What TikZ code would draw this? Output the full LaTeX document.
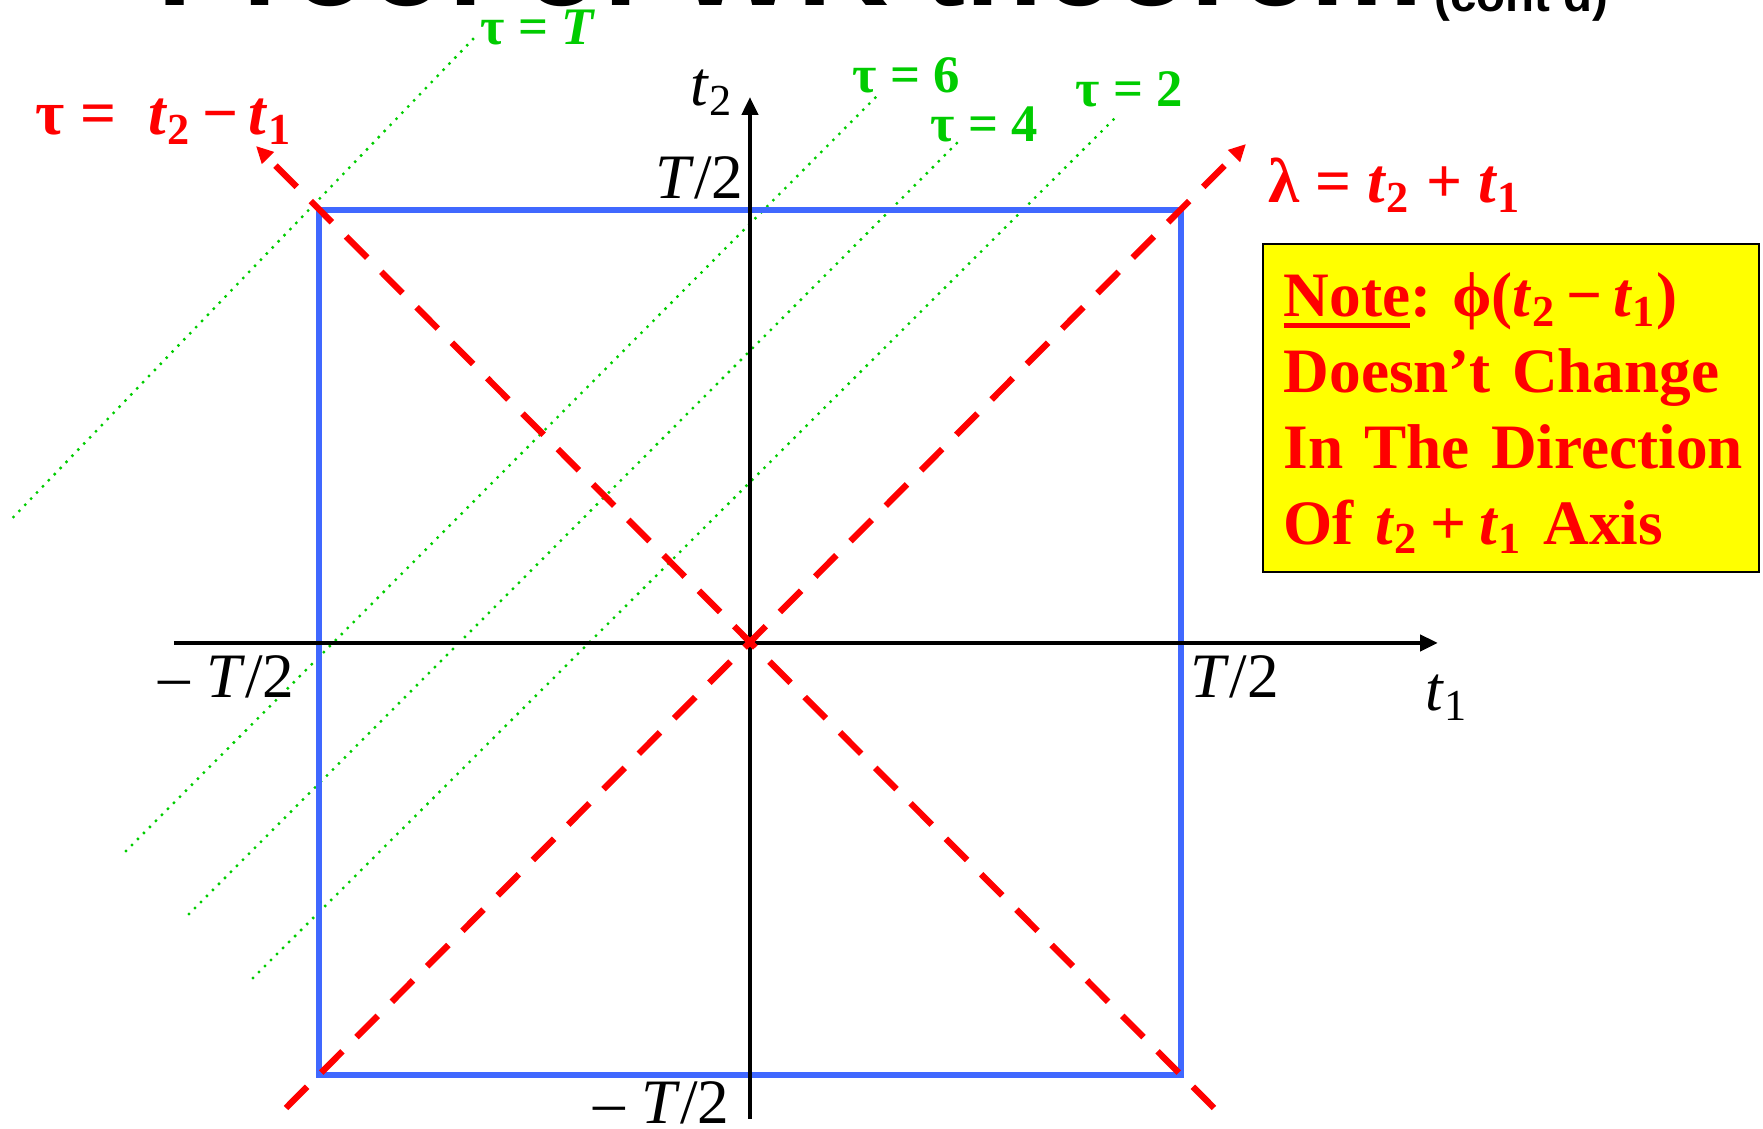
\documentclass[tikz,border=0pt]{standalone}
\usepackage{xcolor}
\usepackage{fontspec}
\setmainfont{Liberation Serif}
\newfontfamily\titlefont{Liberation Sans}
\usepackage{tikz}
\usetikzlibrary{positioning,arrows.meta}
\definecolor{sqblue}{RGB}{64,104,255}
\definecolor{taugreen}{RGB}{0,204,0}
\definecolor{noteyellow}{RGB}{255,255,0}
\newcommand{\thickul}[1]{\leavevmode\setbox0\hbox{#1}\rlap{\rule[-3pt]{\wd0}{1.3pt}}\box0}
\frenchspacing

\begin{document}
\begin{tikzpicture}[
        axis/.style={line width=1.4pt, -{Triangle[length=1.8mm,width=1.6mm]}},
        square/.style={draw=sqblue, line width=1.6pt},
        diag/.style={red, line width=1.8pt, dash pattern=on 3mm off 2mm, -{Triangle[length=1.7mm,width=1.6mm]}},
        tauline/.style={taugreen, line width=0.95pt, line cap=round, dash pattern=on 0pt off 0.85mm},
        axlabel/.style={inner sep=0pt, font=\fontsize{18}{20}\selectfont},
        redlabel/.style={inner sep=0pt, text=red, font=\fontsize{18}{20}\selectfont\bfseries},
        taulabel/.style={inner sep=0pt, text=taugreen, font=\fontsize{15}{17}\selectfont\bfseries},
        notebox/.style={draw=black, line width=0.6pt, fill=noteyellow, inner sep=0pt},
        notetext/.style={inner sep=0pt, text=red, text width=4.75cm, align=left, font=\fontsize{18}{21.6}\selectfont\bfseries}
    ]
                \useasboundingbox (-7.50,-4.86) rectangle (10.13,6.43);
                \node[inner sep=0pt, anchor=base west, font=\titlefont\fontsize{36}{40}\selectfont\bfseries] (title) at (-5.93,6.37) {Proof of WK theorem};
                \node[inner sep=0pt, anchor=base west, font=\titlefont\fontsize{13.5}{15}\selectfont\bfseries] (titlecont) at (6.84,6.31) {(cont’d)};
                \coordinate (O) at (0,0);
                \coordinate (t1start) at (-5.76,0);
                \coordinate (t1end) at (6.88,0);
                \coordinate (t2start) at (0,-4.76);
                \coordinate (t2end) at (0,5.46);
                \coordinate (sqSW) at (-4.31,-4.32);
                \coordinate (sqNE) at (4.31,4.33);
                \coordinate (lamstart) at (-4.64,-4.65);
                \coordinate (lamend) at (4.96,4.99);
                \coordinate (taustart) at (4.64,-4.65);
                \coordinate (tauend) at (-4.94,4.97);
                \coordinate (gTlo) at (-7.365,1.26);
                \coordinate (gThi) at (-2.73,6.08);
                \coordinate (g6lo) at (-6.24,-2.08);
                \coordinate (g6hi) at (1.28,5.48);
                \coordinate (g4lo) at (-5.61,-2.71);
                \coordinate (g4hi) at (2.08,5.01);
                \coordinate (g2lo) at (-4.97,-3.35);
                \coordinate (g2hi) at (3.65,5.25);
                \draw[tauline] (gTlo) -- (gThi);
                \draw[tauline] (g6lo) -- (g6hi);
                \draw[tauline] (g4lo) -- (g4hi);
                \draw[tauline] (g2lo) -- (g2hi);
                \draw[square] (sqSW) rectangle (sqNE);
                \draw[axis] (t1start) -- (t1end);
                \draw[axis] (t2start) -- (t2end);
                \draw[diag] (lamstart) -- (lamend);
                \draw[diag] (taustart) -- (tauend);
                \node[taulabel, anchor=base west] (lblT) at (-2.70,5.98) {τ = \textit{T}};
                \node[taulabel, anchor=base west] (lbl6) at (1.02,5.50) {τ = 6};
                \node[taulabel, anchor=base west] (lbl4) at (1.80,5.01) {τ = 4};
                \node[taulabel, anchor=base west] (lbl2) at (3.25,5.36) {τ = 2};
                \node[redlabel, anchor=base west] (lbltau) at (-7.15,5.08) {τ =\ \ \textit{t}\textsubscript{2}\hspace{0.17em}−\hspace{0.17em}\textit{t}\textsubscript{1}};
                \node[redlabel, anchor=base west] (lbllambda) at (5.18,4.40) {λ = \textit{t}\textsubscript{2} + \textit{t}\textsubscript{1}};
                \node[axlabel, anchor=base east] (lblTtop) at (-0.06,4.44) {\textit{T}/2};
                \node[axlabel, anchor=base west] (lblt2) at (-0.60,5.37) {\textit{t}\textsubscript{2}};
                \node[axlabel, anchor=base east] (lblmTleft) at (-4.55,-0.55) {– \textit{T}/2};
                \node[axlabel, anchor=base west] (lblTright) at (4.40,-0.55) {\textit{T}/2};
                \node[axlabel, anchor=base west] (lblt1) at (6.75,-0.68) {\textit{t}\textsubscript{1}};
                \node[axlabel, anchor=base east] (lblmTbottom) at (-0.20,-4.81) {– \textit{T}/2};
                \node[notebox, minimum width=4.96cm, minimum height=3.28cm, anchor=north west] (notebg) at (5.12,4.00) {};
                \node[notetext, anchor=base west] (note) at (5.33,3.26) {\thickul{Note}: ϕ(\textit{t}\textsubscript{2}\hspace{0.17em}−\hspace{0.17em}\textit{t}\textsubscript{1})\\Doesn’t Change\\In The Direction\\Of \textit{t}\textsubscript{2}\hspace{0.2em}+\hspace{0.2em}\textit{t}\textsubscript{1} Axis};
            \end{tikzpicture}
\end{document}
